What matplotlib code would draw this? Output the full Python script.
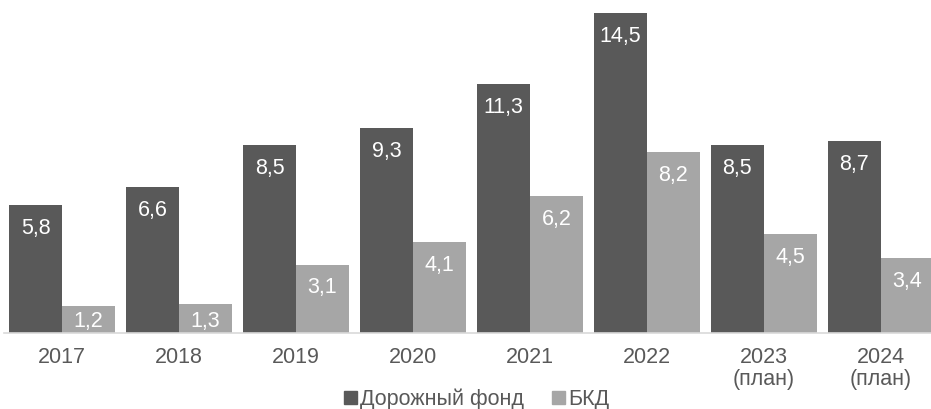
import numpy as np
import matplotlib.pyplot as plt
from matplotlib.patches import Patch

plt.rcParams['font.family'] = ['Liberation Sans', 'DejaVu Sans']

years = ['2017', '2018', '2019', '2020', '2021', '2022', '2023\n(план)', '2024\n(план)']
road_fund = [5.8, 6.6, 8.5, 9.3, 11.3, 14.5, 8.5, 8.7]
bkd = [1.2, 1.3, 3.1, 4.1, 6.2, 8.2, 4.5, 3.4]

dark = '#595959'
light = '#a6a6a6'
txt = '#595959'

fig = plt.figure(figsize=(9.31, 4.09), dpi=100)
ax = fig.add_axes([0.004, 0.186, 0.996, 0.814])

x = np.arange(len(years))
w = 0.453
b1 = ax.bar(x - w / 2, road_fund, w, color=dark)
b2 = ax.bar(x + w / 2, bkd, w, color=light)

for bars, vals in ((b1, road_fund), (b2, bkd)):
    for r, v in zip(bars, vals):
        y = max(v - 1.06, 0.5)
        ax.text(r.get_x() + r.get_width() / 2, y, f'{v:.1f}'.replace('.', ','),
                ha='center', va='center', color='white', fontsize=15.5)

ax.set_xlim(-0.5, 7.43)
ax.set_ylim(0, 15.09)
ax.set_yticks([])
ax.set_xticks(x)
ax.set_xticklabels(years, fontsize=15.5, color=txt, linespacing=1.1)
ax.tick_params(axis='x', length=0, pad=10)
for s in ['top', 'right', 'left']:
    ax.spines[s].set_visible(False)
ax.spines['bottom'].set_color('#d9d9d9')
ax.spines['bottom'].set_linewidth(1.2)

handles = [Patch(color=dark, label='Дорожный фонд'), Patch(color=light, label='БКД')]
fig.legend(handles=handles, loc='lower center', bbox_to_anchor=(0.512, -0.05), ncol=2,
           frameon=False, fontsize=15.5, labelcolor=txt, handlelength=0.6, handleheight=0.6,
           handletextpad=0.15, columnspacing=1.3)

fig.savefig('out.png', dpi=100)
